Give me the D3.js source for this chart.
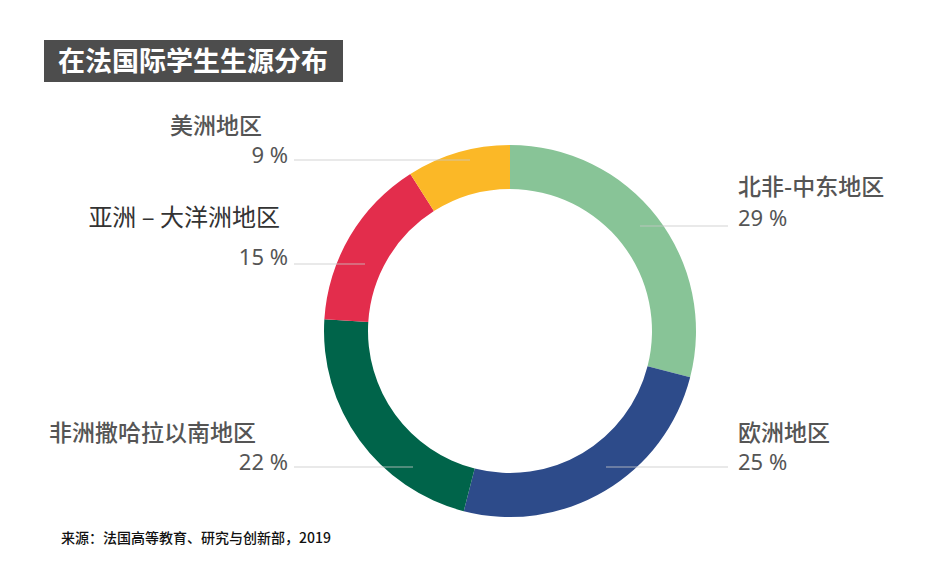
<!DOCTYPE html>
<html>
<head>
<meta charset="utf-8">
<script src="https://cdn.jsdelivr.net/npm/d3@7"></script>
<style>
  body { margin: 0; background: #fff; }
  .main-svg { display: block; }
</style>
</head>
<body>
<script>
// chart values
const categories = ['北非-中东地区', '欧洲地区', '非洲撒哈拉以南地区', '亚洲 – 大洋洲地区', '美洲地区']
const shares = [29, 25, 22, 15, 9]
const colours = ['#88c497', '#2d4b8a', '#00644a', '#e32d4c', '#fbb827']
const title = '在法国际学生生源分布'
const source = '来源：法国高等教育、研究与创新部，2019'

// where each label sits (same order as categories)
const labelLayout = [
  { side: 'right', nameY: 195, valY: 226, lineY: 226, lineFrom: 640 },
  { side: 'right', nameY: 441, valY: 470, lineY: 467, lineFrom: 606 },
  { side: 'left', nameY: 441, valY: 470, lineY: 467, lineFrom: 413 },
  { side: 'left', nameY: 226, valY: 265, lineY: 264, lineFrom: 365 },
  { side: 'left', nameY: 134, valY: 163, lineY: 160, lineFrom: 470 }
]

const svgFrame = { width: 926, height: 566 }
const donut = { cx: 510, cy: 331, outer: 186, inner: 142 }

const svg = d3.select('body').append('svg')
  .attr('class', 'main-svg')
  .attr('width', svgFrame.width)
  .attr('height', svgFrame.height)

// title box
svg.append('rect')
  .attr('x', 44).attr('y', 40)
  .attr('width', 299).attr('height', 42)
  .attr('fill', '#4d4d4d')

svg.append('text')
  .attr('x', 193).attr('y', 71)
  .attr('text-anchor', 'middle')
  .attr('fill', '#fff')
  .style('font-family', 'Noto Sans CJK SC')
  .style('font-weight', 700)
  .style('font-size', '27px')
  .text(title)

const pie = d3.pie().sort(null).value(d => d)
const arc = d3.arc().innerRadius(donut.inner).outerRadius(donut.outer)

const g = svg.append('g')
  .attr('transform', `translate(${donut.cx},${donut.cy})`)

g.selectAll('path')
  .data(pie(shares))
  .join('path')
  .attr('d', arc)
  .attr('fill', (d, i) => colours[i])

// leader lines, drawn over the ring
const leftX = 288
const rightX = 738

labelLayout.forEach((lay, i) => {
  const left = lay.side === 'left'
  svg.append('line')
    .attr('x1', left ? leftX + 6 : lay.lineFrom)
    .attr('x2', left ? lay.lineFrom : rightX - 10)
    .attr('y1', lay.lineY).attr('y2', lay.lineY)
    .attr('stroke', '#c8c8c8')
    .attr('stroke-opacity', 0.8)
    .attr('stroke-width', 1)

  const special = i === 3
  svg.append('text')
    .attr('x', left ? (special ? 280 : (i === 2 ? 256 : 262)) : rightX)
    .attr('y', lay.nameY)
    .attr('text-anchor', left ? 'end' : 'start')
    .attr('fill', special ? '#333' : '#555')
    .style('font-family', 'Noto Sans CJK SC')
    .style('font-weight', special ? 400 : 500)
    .style('font-size', special ? '24px' : '23px')
    .text(categories[i])

  svg.append('text')
    .attr('x', left ? leftX : rightX)
    .attr('y', lay.valY)
    .attr('text-anchor', left ? 'end' : 'start')
    .attr('fill', '#555')
    .style('font-family', 'Noto Sans')
    .style('font-size', '22px')
    .text(shares[i] + ' %')
})

svg.append('text')
  .attr('x', 61).attr('y', 543)
  .attr('fill', '#111')
  .style('font-family', 'Noto Sans CJK SC')
  .style('font-weight', 500)
  .style('font-size', '14px')
  .text(source)
</script>
</body>
</html>
